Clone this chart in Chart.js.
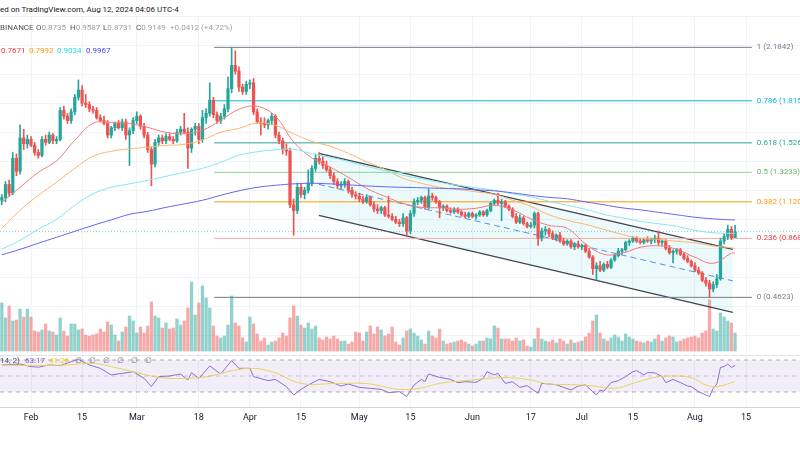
<!DOCTYPE html>
<html>
<head>
<meta charset="utf-8">
<script src="https://cdn.jsdelivr.net/npm/chart.js@4.4.1/dist/chart.umd.min.js"></script>
<style>
  body { margin: 0; width: 800px; height: 450px; overflow: hidden; background: #fff; font-family: Roboto, "Open Sans", sans-serif; }
  .abs { position: absolute; white-space: nowrap; font-size: 8px; line-height: 10px; }
  #pricePane { position: absolute; left: 0; top: 16px; }
  #rsiPane { position: absolute; left: 0; top: 356px; }
  .sep { position: absolute; left: 0; width: 800px; height: 1px; background: #e0e3eb; }
</style>
</head>
<body>
<canvas id="pricePane" width="800" height="340"></canvas>
<canvas id="rsiPane" width="800" height="94"></canvas>
<div class="sep" style="top:355px"></div>

<div class="abs" style="left:0;top:5px;color:#131722">ed on TradingView.com, Aug 12, 2024 04:06 UTC-4</div>
<div class="abs" style="left:0;top:23px;color:#50535e">BINANCE</div>
<div class="abs" style="left:36px;top:23px;color:#50535e">O<span style="color:#9aa0a8">0.8735</span></div>
<div class="abs" style="left:70px;top:23px;color:#50535e">H<span style="color:#9aa0a8">0.9587</span></div>
<div class="abs" style="left:103px;top:23px;color:#50535e">L<span style="color:#9aa0a8">0.8731</span></div>
<div class="abs" style="left:136px;top:23px;color:#50535e">C<span style="color:#9aa0a8">0.9149</span></div>
<div class="abs" style="left:170px;top:23px;color:#9aa0a8">+0.0412 (+4.72%)</div>
<div class="abs" style="left:1px;top:46px;color:#f23645">0.7671</div>
<div class="abs" style="left:29px;top:46px;color:#ff9800">0.7992</div>
<div class="abs" style="left:57px;top:46px;color:#26d4e6">0.9034</div>
<div class="abs" style="left:86px;top:46px;color:#3d3dff">0.9967</div>

<div class="abs" style="left:0;top:356px;color:#50535e">14, 2)</div>
<div class="abs" style="left:25px;top:356px;color:#7e57c2">63.17</div>
<div class="abs" style="left:49px;top:356px;color:#f5c518">41.26</div>
<div class="abs" style="left:75px;top:356px;color:#787b86;letter-spacing:7px">∅∅∅∅∅∅</div>

<script>
// daily candles, day 0 = 2024-01-24
const opens = [1.13,1.15,1.24,1.18,1.42,1.33,1.56,1.52,1.55,1.51,1.46,1.44,1.55,1.53,1.58,1.54,1.55,1.75,1.71,1.68,
  1.74,1.84,1.89,1.80,1.79,1.76,1.75,1.70,1.68,1.66,1.58,1.63,1.66,1.63,1.67,1.58,1.61,1.68,1.71,1.64,
  1.58,1.48,1.38,1.53,1.56,1.54,1.57,1.55,1.54,1.60,1.62,1.60,1.49,1.62,1.64,1.55,1.70,1.73,1.82,1.72,
  1.68,1.71,1.76,1.90,2.06,2.02,1.91,1.88,1.93,1.94,1.74,1.67,1.66,1.65,1.68,1.71,1.58,1.54,1.48,1.47,
  1.10,1.06,1.22,1.17,1.20,1.25,1.35,1.42,1.40,1.37,1.34,1.30,1.26,1.23,1.24,1.26,1.20,1.17,1.16,1.14,
  1.12,1.15,1.10,1.07,1.06,1.08,1.03,1.02,1.00,0.98,0.97,1.01,0.92,1.04,1.12,1.13,1.15,1.08,1.16,1.15,
  1.12,1.08,1.09,1.06,1.05,1.07,1.05,1.03,1.02,1.04,1.02,1.03,1.05,1.03,1.06,1.11,1.13,1.11,1.12,1.09,
  1.07,1.02,0.98,1.01,0.97,0.95,0.96,1.04,0.87,0.92,0.93,0.90,0.87,0.89,0.85,0.83,0.85,0.81,0.83,0.81,
  0.82,0.78,0.74,0.66,0.68,0.65,0.69,0.67,0.72,0.75,0.78,0.79,0.84,0.85,0.87,0.85,0.84,0.86,0.85,0.86,
  0.87,0.84,0.85,0.80,0.77,0.78,0.79,0.76,0.73,0.71,0.68,0.65,0.63,0.58,0.56,0.52,0.55,0.59,0.85,0.88,
  0.93,0.8735];
const highs = [1.17,1.26,1.27,1.46,1.45,1.65,1.62,1.58,1.57,1.53,1.48,1.57,1.58,1.60,1.59,1.57,1.77,1.78,1.73,1.76,
  1.86,1.96,1.92,1.86,1.81,1.78,1.77,1.72,1.71,1.68,1.64,1.67,1.68,1.69,1.69,1.63,1.70,1.74,1.72,1.66,
  1.60,1.50,1.55,1.58,1.58,1.59,1.59,1.57,1.62,1.64,1.73,1.63,1.63,1.66,1.66,1.75,1.76,1.94,1.84,1.74,
  1.73,1.79,1.98,2.1842,2.16,2.05,1.93,1.95,1.96,1.97,1.76,1.70,1.70,1.69,1.73,1.72,1.60,1.56,1.52,1.49,
  1.14,1.25,1.24,1.22,1.34,1.37,1.45,1.46,1.43,1.40,1.36,1.32,1.28,1.26,1.28,1.27,1.22,1.19,1.18,1.16,
  1.17,1.16,1.12,1.10,1.09,1.09,1.16,1.04,1.02,1.00,1.04,1.02,1.06,1.14,1.15,1.16,1.16,1.21,1.18,1.16,
  1.13,1.10,1.10,1.08,1.08,1.08,1.06,1.05,1.05,1.05,1.04,1.06,1.06,1.07,1.12,1.14,1.18,1.14,1.13,1.10,
  1.08,1.04,1.03,1.02,0.98,0.98,1.05,1.05,0.94,0.95,0.94,0.92,0.90,0.91,0.87,0.86,0.86,0.84,0.85,0.83,
  0.83,0.80,0.75,0.70,0.71,0.70,0.71,0.73,0.76,0.80,0.80,0.85,0.86,0.88,0.88,0.87,0.87,0.88,0.87,0.89,
  0.92,0.86,0.86,0.82,0.79,0.80,0.80,0.77,0.75,0.72,0.70,0.67,0.64,0.60,0.58,0.57,0.62,0.87,0.90,0.96,
  0.95,0.9587];
const lows = [1.10,1.12,1.16,1.17,1.30,1.31,1.48,1.49,1.50,1.44,1.42,1.43,1.51,1.52,1.52,1.52,1.54,1.69,1.66,1.66,
  1.72,1.82,1.78,1.77,1.74,1.73,1.69,1.67,1.65,1.56,1.56,1.61,1.62,1.61,1.55,1.37,1.59,1.66,1.62,1.56,
  1.46,1.23,1.36,1.51,1.52,1.52,1.54,1.52,1.53,1.58,1.59,1.35,1.46,1.58,1.52,1.53,1.66,1.71,1.70,1.66,
  1.66,1.69,1.74,1.87,2.00,1.88,1.86,1.86,1.90,1.72,1.66,1.58,1.63,1.62,1.65,1.56,1.52,1.45,1.44,1.08,
  0.89,1.04,1.15,1.14,1.18,1.23,1.33,1.38,1.35,1.33,1.28,1.24,1.21,1.21,1.22,1.18,1.15,1.14,1.12,1.11,
  1.11,1.09,1.05,1.04,1.04,1.02,1.01,0.99,0.97,0.95,0.95,0.89,0.90,1.02,1.10,1.11,1.07,1.07,1.13,1.11,
  1.01,1.06,1.05,1.04,1.04,1.04,1.02,1.01,1.01,1.01,1.00,1.02,1.02,1.02,1.05,1.10,1.10,0.99,1.08,1.06,
  1.01,0.97,0.97,0.96,0.94,0.94,0.94,0.82,0.85,0.89,0.88,0.86,0.85,0.84,0.82,0.82,0.80,0.79,0.80,0.79,
  0.77,0.73,0.62,0.58,0.64,0.64,0.66,0.66,0.71,0.74,0.76,0.78,0.82,0.84,0.84,0.83,0.83,0.84,0.83,0.84,
  0.82,0.82,0.79,0.76,0.70,0.76,0.75,0.72,0.70,0.67,0.64,0.62,0.57,0.54,0.4623,0.50,0.53,0.58,0.83,0.86,
  0.86,0.8731];
const closes = [1.15,1.24,1.18,1.42,1.33,1.56,1.52,1.55,1.51,1.46,1.44,1.55,1.53,1.58,1.54,1.55,1.75,1.71,1.68,1.74,
  1.84,1.89,1.80,1.79,1.76,1.75,1.70,1.68,1.66,1.58,1.63,1.66,1.63,1.67,1.58,1.61,1.68,1.71,1.64,1.58,
  1.48,1.38,1.53,1.56,1.54,1.57,1.55,1.54,1.60,1.62,1.60,1.49,1.62,1.64,1.55,1.70,1.73,1.82,1.72,1.68,
  1.71,1.76,1.90,2.06,2.02,1.91,1.88,1.93,1.94,1.74,1.67,1.66,1.65,1.68,1.71,1.58,1.54,1.48,1.47,1.10,
  1.06,1.22,1.17,1.20,1.25,1.35,1.42,1.40,1.37,1.34,1.30,1.26,1.23,1.24,1.26,1.20,1.17,1.16,1.14,1.12,
  1.15,1.10,1.07,1.06,1.08,1.03,1.02,1.00,0.98,0.97,1.01,0.92,1.04,1.12,1.13,1.15,1.08,1.16,1.15,1.12,
  1.08,1.09,1.06,1.05,1.07,1.05,1.03,1.02,1.04,1.02,1.03,1.05,1.03,1.06,1.11,1.13,1.11,1.12,1.09,1.07,
  1.02,0.98,1.01,0.97,0.95,0.96,1.04,0.87,0.92,0.93,0.90,0.87,0.89,0.85,0.83,0.85,0.81,0.83,0.81,0.82,
  0.78,0.74,0.66,0.68,0.65,0.69,0.67,0.72,0.75,0.78,0.79,0.84,0.85,0.87,0.85,0.84,0.86,0.85,0.86,0.87,
  0.84,0.85,0.80,0.77,0.78,0.79,0.76,0.73,0.71,0.68,0.65,0.63,0.58,0.56,0.52,0.55,0.59,0.85,0.88,0.93,
  0.8735,0.9149];
const volumes = [48,33,45,30,31,42,34,42,34,20,19,21,27,20,19,16,33,20,15,27,
  27,21,22,16,15,16,17,22,19,29,26,16,10,19,24,35,30,18,24,18,
  25,49,35,33,23,28,22,23,32,26,30,43,69,36,48,65,53,43,25,15,
  13,15,26,55,28,25,13,9,34,27,17,10,13,6,9,10,13,18,15,33,
  45,35,26,23,28,22,25,13,11,14,12,15,12,10,10,7,9,19,18,10,
  19,25,17,24,21,15,17,24,9,6,13,20,22,18,15,11,7,20,15,13,
  22,10,7,8,9,10,11,9,7,5,7,10,10,13,12,25,23,12,12,12,
  10,13,10,11,5,4,12,23,12,10,9,11,8,12,10,7,11,8,9,10,
  14,18,30,36,18,12,10,13,16,14,10,17,14,12,10,9,8,10,9,12,
  16,10,13,15,14,9,10,12,13,14,15,13,18,20,51,22,20,38,34,30,
  28,18];

// moving averages sampled every 5 days
const maDays = [0,5,10,15,20,25,30,35,40,45,50,55,60,65,70,75,80,85,90,95,100,105,110,115,120,125,130,135,140,145,150,155,160,165,170,175,180,185,190,195,200,201];
const ema20 = [1.117,1.220,1.323,1.403,1.544,1.661,1.668,1.661,1.633,1.599,1.589,1.613,1.682,1.757,1.778,1.709,1.533,1.422,1.359,1.289,1.213,1.158,1.110,1.082,1.079,1.069,1.076,1.096,1.065,1.003,0.958,0.938,0.831,0.759,0.766,0.807,0.817,0.793,0.738,0.697,0.766,0.7671];
const ema50 = [0.938,1.062,1.165,1.255,1.351,1.434,1.468,1.485,1.496,1.509,1.516,1.547,1.599,1.626,1.664,1.647,1.589,1.537,1.503,1.454,1.396,1.344,1.282,1.248,1.220,1.206,1.189,1.172,1.131,1.089,1.031,0.993,0.965,0.931,0.896,0.869,0.862,0.848,0.838,0.817,0.803,0.7992];
const ema100 = [0.793,0.855,0.931,1.000,1.096,1.175,1.220,1.244,1.268,1.296,1.323,1.351,1.392,1.441,1.465,1.478,1.482,1.451,1.427,1.399,1.365,1.334,1.303,1.279,1.255,1.234,1.217,1.199,1.175,1.155,1.124,1.096,1.069,1.034,1.010,0.986,0.969,0.952,0.924,0.907,0.903,0.9034];
const ema200 = [0.755,0.793,0.835,0.876,0.917,0.958,0.996,1.034,1.055,1.082,1.106,1.131,1.165,1.196,1.220,1.234,1.244,1.248,1.244,1.237,1.230,1.224,1.220,1.217,1.213,1.210,1.203,1.196,1.182,1.165,1.151,1.141,1.120,1.100,1.079,1.065,1.048,1.031,1.014,1.003,0.996,0.9967];

// fibonacci retracement
const fibRatios = [1, 0.786, 0.618, 0.5, 0.382, 0.236, 0];
const fibPrices = [2.1842, 1.8157, 1.5264, 1.3233, 1.1201, 0.8687, 0.4623];
const fibSpan = [58.2, 205.6];

// descending channel
const channelDays = [86.9, 200.4];
const channelUpper = [1.454, 0.793];
const channelMid = [1.2405, 0.576];
const channelLower = [1.027, 0.359];
const lastClose = 0.9149;

// RSI (14) and its smoothing
const rsiDays = [0,5,8,10,13,16,19,21,24,27,30,33,36,39,41,43,46,49,51,52,54,57,60,63,65,68,69,73,75,78,80,82,84,87,90,93,95,98,101,104,106,109,111,113,115,116,117,120,123,125,127,130,132,133,135,136,138,140,142,144,147,148,150,152,154,156,158,160,162,163,164,165,167,169,171,173,174,176,177,179,181,182,184,186,188,189,191,194,195,196,197,198,199,200,201];
const rsiValues = [63.8,65,61.7,61,63.8,63,67.9,70.8,63.8,59.6,51.3,53.3,55.4,47.1,36.7,49.2,50,52.5,45,54.2,47.1,62.5,52.5,69.2,59.6,59.6,49.2,44.2,45.8,36.7,26.3,33.3,38.8,45.8,42.9,37.5,40,35.8,34.6,33.3,29.2,30.4,24.2,38.8,45.8,43,52.5,48.3,45.8,41.7,42.9,42.1,47.1,55.4,51.3,53.3,40.8,42.9,35.8,38,28.3,40.8,40,39,35.8,32.5,37.5,38.8,30.4,26.3,32.5,31,41.7,44.2,49.2,55.4,56.7,51.3,54.2,54,49.2,41.7,45.8,41.7,37.5,36.7,30.4,24.2,34.6,40,60.8,61.7,65,60.8,63.17];
const rsiMaDays = [0,9,18,25,32,36,43,50,56,62,68,74,82,91,100,109,115,120,127,137,144,150,157,162,168,173,179,184,189,193,196,201];
const rsiMaValues = [63.8,63,63.8,65.8,59.6,55.4,48.3,47,49,55.4,59.6,55.4,40.8,40.5,40.5,33.3,35,40.8,44.2,47.9,45.8,40,39,37.5,34.6,40.8,48.3,50,48,38.75,36.7,42.9];
const rsiLevels = [70, 50, 30];

// axes
const tickDays = [8,22,37,54,68,82,98,112,129,145,159,173,190,204];
const tickLabels = ['Feb','15','Mar','18','Apr','15','May','15','Jun','17','Jul','15','Aug','15'];
const gridPrices = [0.2,0.4,0.6,0.8,1.0,1.2,1.4,1.6,1.8,2.0,2.2,2.4];
const dayMin = -0.5, dayMax = 218.8;

const upColor = '#26a69a', downColor = '#ef5350';
const fibColors = ['#787b86', '#00bcd4', '#26a69a', '#8bd68f', '#ff9800', '#f7a7ab', '#787b86'];
const fibTextColors = ['#787b86', '#00bcd4', '#26a69a', '#66bb6a', '#ff9800', '#f23645', '#787b86'];
const gridColor = '#f0f3fa';

const isUp = closes.map((c, i) => c >= opens[i]);
const candleColors = isUp.map(u => u ? upColor : downColor);
const volColors = isUp.map(u => u ? 'rgba(38,166,154,0.5)' : 'rgba(239,83,80,0.5)');

function pts(xs, ys) { return xs.map((x, k) => ({ x: x, y: ys[k] })); }
function lineDs(data, color, extra) {
  return Object.assign({ type: 'line', data: data, borderColor: color, borderWidth: 1, pointRadius: 0, fill: false, yAxisID: 'y' }, extra || {});
}

const datasets = [];
datasets.push({ type: 'bar', data: volumes.map((v, i) => ({ x: i, y: v })), backgroundColor: volColors, barThickness: 2.6, grouped: false, yAxisID: 'vol', order: 10 });
datasets.push(lineDs(pts(channelDays, channelUpper), '#434651', { borderWidth: 1.4, order: 9 }));
datasets.push(lineDs(pts(channelDays, channelLower), '#434651', { borderWidth: 1.4, order: 9, fill: '-1', backgroundColor: 'rgba(0,188,212,0.07)' }));
datasets.push(lineDs(pts(channelDays, channelMid), '#5b8def', { borderDash: [6, 4], order: 9 }));
fibPrices.forEach((p, k) => {
  datasets.push(lineDs([{ x: fibSpan[0], y: p }, { x: fibSpan[1], y: p }], fibColors[k], { order: 8 }));
});
datasets.push(lineDs([{ x: dayMin, y: lastClose }, { x: dayMax, y: lastClose }], 'rgba(38,166,154,0.55)', { borderDash: [1, 2], order: 7 }));
datasets.push({ type: 'bar', data: lows.map((l, i) => ({ x: i, y: [l, highs[i]] })), backgroundColor: candleColors, barThickness: 1, grouped: false, order: 2 });
datasets.push({ type: 'bar', data: opens.map((o, i) => ({ x: i, y: [o, closes[i]] })), backgroundColor: candleColors, barThickness: 2.6, minBarLength: 1, grouped: false, order: 1 });
datasets.push(lineDs(pts(maDays, ema200), '#6464f0', { tension: 0.4, order: 0 }));
datasets.push(lineDs(pts(maDays, ema100), '#80e8f2', { tension: 0.4, order: 0 }));
datasets.push(lineDs(pts(maDays, ema50), '#ffb56b', { tension: 0.4, order: 0 }));
datasets.push(lineDs(pts(maDays, ema20), '#f4797b', { tension: 0.4, order: 0 }));

const fibLabels = {
  id: 'fibLabels',
  afterDatasetsDraw(chart) {
    const ctx = chart.ctx, xs = chart.scales.x, ys = chart.scales.y;
    ctx.save();
    ctx.font = '8px Roboto';
    ctx.textBaseline = 'middle';
    fibRatios.forEach((r, k) => {
      ctx.fillStyle = fibTextColors[k];
      ctx.fillText(r + ' (' + fibPrices[k].toFixed(4) + ')', xs.getPixelForValue(fibSpan[1]) + 5, ys.getPixelForValue(fibPrices[k]));
    });
    ctx.restore();
  }
};

new Chart(document.getElementById('pricePane'), {
  type: 'bar',
  data: { datasets: datasets },
  plugins: [fibLabels],
  options: {
    responsive: false,
    animation: false,
    events: [],
    layout: { padding: 0 },
    plugins: { legend: { display: false }, tooltip: { enabled: false } },
    scales: {
      x: {
        type: 'linear', min: dayMin, max: dayMax, offset: false,
        grid: { color: gridColor, drawTicks: false, offset: false },
        border: { display: false },
        ticks: { display: false },
        afterBuildTicks: s => { s.ticks = tickDays.map(v => ({ value: v })); },
        afterFit: s => { s.height = 0; }
      },
      y: {
        type: 'linear', min: 2.4 - 340 / 145.2, max: 2.4,
        grid: { color: gridColor, drawTicks: false },
        border: { display: false },
        ticks: { display: false },
        afterBuildTicks: s => { s.ticks = gridPrices.map(v => ({ value: v })); },
        afterFit: s => { s.width = 0; }
      },
      vol: { type: 'linear', display: false, min: -5, max: 335 }
    }
  }
});

const rsiSets = [
  { data: [{ x: dayMin, y: rsiLevels[0] }, { x: dayMax, y: rsiLevels[0] }], borderColor: 'rgba(120,123,134,0.6)', borderDash: [4, 4], fill: false },
  { data: [{ x: dayMin, y: rsiLevels[2] }, { x: dayMax, y: rsiLevels[2] }], borderColor: 'rgba(120,123,134,0.6)', borderDash: [4, 4], fill: 0, backgroundColor: 'rgba(126,87,194,0.1)' },
  { data: [{ x: dayMin, y: rsiLevels[1] }, { x: dayMax, y: rsiLevels[1] }], borderColor: 'rgba(120,123,134,0.35)', borderDash: [4, 4], fill: false },
  { data: pts(rsiMaDays, rsiMaValues), borderColor: '#f9e04b', tension: 0.4, fill: false },
  { data: pts(rsiDays, rsiValues), borderColor: '#8f6fd6', tension: 0, fill: false }
].map(d => Object.assign({ borderWidth: 1, pointRadius: 0 }, d));

new Chart(document.getElementById('rsiPane'), {
  type: 'line',
  data: { datasets: rsiSets },
  options: {
    responsive: false,
    animation: false,
    events: [],
    layout: { padding: 0 },
    plugins: { legend: { display: false }, tooltip: { enabled: false } },
    scales: {
      x: {
        type: 'linear', min: dayMin, max: dayMax,
        grid: { color: gridColor, drawTicks: false },
        border: { display: true, color: '#d1d4dc' },
        ticks: {
          autoSkip: false, maxRotation: 0, padding: 5,
          color: '#131722', font: { size: 9, family: 'Roboto' },
          callback: (v, i) => tickLabels[i]
        },
        afterBuildTicks: s => { s.ticks = tickDays.map(v => ({ value: v })); },
        afterFit: s => { s.height = 43; }
      },
      y: {
        type: 'linear', min: 11.25, max: 75,
        grid: { display: false },
        border: { display: false },
        ticks: { display: false },
        afterFit: s => { s.width = 0; }
      }
    }
  }
});
</script>
</body>
</html>
